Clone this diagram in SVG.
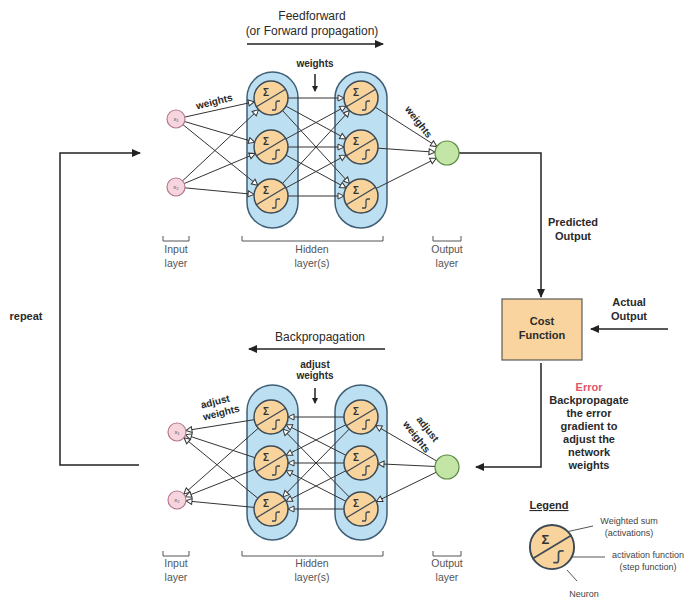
<svg xmlns="http://www.w3.org/2000/svg" width="688" height="600" viewBox="0 0 688 600">
<style>
text{font-family:"Liberation Sans",Arial,sans-serif;fill:#2a2a2a;}
.t{font-size:12px;text-anchor:middle;}
.b{font-size:11px;font-weight:bold;text-anchor:middle;}
.w{font-size:10px;font-weight:bold;text-anchor:middle;}
.s{font-size:10.5px;text-anchor:middle;fill:#555;}
.cap{fill:#bcdff1;stroke:#3f5f76;stroke-width:1.5;}
.nc{fill:#f8d49c;stroke:#3c4a55;stroke-width:1.5;}
.neuron line,.neuron path{stroke:#3c4a55;stroke-width:1.3;fill:none;}
.sig{font-size:10px;font-weight:bold;text-anchor:middle;fill:#333;}
.inp{fill:#f6d5de;stroke:#b57a8e;stroke-width:1.2;}
.out{fill:#c3e5a5;stroke:#5b8a42;stroke-width:1.2;}
.xl{font-size:6px;text-anchor:middle;fill:#555;}
.c{stroke:#333;stroke-width:1;fill:none;}
.k{stroke:#222;stroke-width:1.5;fill:none;}
.br{stroke:#555;stroke-width:1;fill:none;}
.lg{font-size:9px;text-anchor:middle;fill:#444;}
</style>
<defs>
<marker id="a17" markerUnits="userSpaceOnUse" markerWidth="10" markerHeight="10" refX="17" refY="0" orient="auto" overflow="visible"><path d="M0,0 L-6,-3 L-6,3 Z" fill="#fff" stroke="#333" stroke-width="1"/></marker>
<marker id="a12" markerUnits="userSpaceOnUse" markerWidth="10" markerHeight="10" refX="12" refY="0" orient="auto" overflow="visible"><path d="M0,0 L-6,-3 L-6,3 Z" fill="#fff" stroke="#333" stroke-width="1"/></marker>
<marker id="a9" markerUnits="userSpaceOnUse" markerWidth="10" markerHeight="10" refX="9" refY="0" orient="auto" overflow="visible"><path d="M0,0 L-6,-3 L-6,3 Z" fill="#fff" stroke="#333" stroke-width="1"/></marker>
<marker id="af" markerUnits="userSpaceOnUse" markerWidth="10" markerHeight="10" refX="0" refY="0" orient="auto" overflow="visible"><path d="M1,0 L-8,-4 L-8,4 Z" fill="#222"/></marker>
<marker id="as" markerUnits="userSpaceOnUse" markerWidth="10" markerHeight="10" refX="0" refY="0" orient="auto" overflow="visible"><path d="M1,0 L-5,-3 L-5,3 Z" fill="#222"/></marker>
</defs>

<g id="capsules">
<rect class="cap" x="247" y="72" width="51" height="156" rx="25.5"/>
<rect class="cap" x="335" y="72" width="52" height="156" rx="26"/>
<rect class="cap" x="247" y="385" width="51" height="155" rx="25.5"/>
<rect class="cap" x="335" y="385" width="52" height="155" rx="26"/>
</g>

<g id="connectors">
<line class="c" x1="176" y1="119" x2="271" y2="98" marker-end="url(#a17)"/>
<line class="c" x1="176" y1="119" x2="271" y2="147" marker-end="url(#a17)"/>
<line class="c" x1="176" y1="119" x2="271" y2="196" marker-end="url(#a17)"/>
<line class="c" x1="176" y1="187" x2="271" y2="98" marker-end="url(#a17)"/>
<line class="c" x1="176" y1="187" x2="271" y2="147" marker-end="url(#a17)"/>
<line class="c" x1="176" y1="187" x2="271" y2="196" marker-end="url(#a17)"/>
<line class="c" x1="271" y1="98" x2="361" y2="98" marker-end="url(#a17)"/>
<line class="c" x1="271" y1="98" x2="361" y2="147" marker-end="url(#a17)"/>
<line class="c" x1="271" y1="98" x2="361" y2="196" marker-end="url(#a17)"/>
<line class="c" x1="271" y1="147" x2="361" y2="98" marker-end="url(#a17)"/>
<line class="c" x1="271" y1="147" x2="361" y2="147" marker-end="url(#a17)"/>
<line class="c" x1="271" y1="147" x2="361" y2="196" marker-end="url(#a17)"/>
<line class="c" x1="271" y1="196" x2="361" y2="98" marker-end="url(#a17)"/>
<line class="c" x1="271" y1="196" x2="361" y2="147" marker-end="url(#a17)"/>
<line class="c" x1="271" y1="196" x2="361" y2="196" marker-end="url(#a17)"/>
<line class="c" x1="361" y1="98" x2="447" y2="153" marker-end="url(#a12)"/>
<line class="c" x1="361" y1="147" x2="447" y2="153" marker-end="url(#a12)"/>
<line class="c" x1="361" y1="196" x2="447" y2="153" marker-end="url(#a12)"/>
<line class="c" x1="447" y1="467" x2="361" y2="417" marker-end="url(#a17)"/>
<line class="c" x1="447" y1="467" x2="361" y2="463" marker-end="url(#a17)"/>
<line class="c" x1="447" y1="467" x2="361" y2="509" marker-end="url(#a17)"/>
<line class="c" x1="361" y1="417" x2="271" y2="417" marker-end="url(#a17)"/>
<line class="c" x1="361" y1="417" x2="271" y2="463" marker-end="url(#a17)"/>
<line class="c" x1="361" y1="417" x2="271" y2="509" marker-end="url(#a17)"/>
<line class="c" x1="361" y1="463" x2="271" y2="417" marker-end="url(#a17)"/>
<line class="c" x1="361" y1="463" x2="271" y2="463" marker-end="url(#a17)"/>
<line class="c" x1="361" y1="463" x2="271" y2="509" marker-end="url(#a17)"/>
<line class="c" x1="361" y1="509" x2="271" y2="417" marker-end="url(#a17)"/>
<line class="c" x1="361" y1="509" x2="271" y2="463" marker-end="url(#a17)"/>
<line class="c" x1="361" y1="509" x2="271" y2="509" marker-end="url(#a17)"/>
<line class="c" x1="271" y1="417" x2="177" y2="432" marker-end="url(#a9)"/>
<line class="c" x1="271" y1="463" x2="177" y2="432" marker-end="url(#a9)"/>
<line class="c" x1="271" y1="509" x2="177" y2="432" marker-end="url(#a9)"/>
<line class="c" x1="271" y1="417" x2="177" y2="500" marker-end="url(#a9)"/>
<line class="c" x1="271" y1="463" x2="177" y2="500" marker-end="url(#a9)"/>
<line class="c" x1="271" y1="509" x2="177" y2="500" marker-end="url(#a9)"/>
<line class="k" x1="247" y1="44" x2="383" y2="44" stroke-width="2" marker-end="url(#af)"/>
<line class="k" x1="385" y1="349" x2="249" y2="349" stroke-width="2" marker-end="url(#af)"/>
<line class="k" x1="315" y1="74" x2="315" y2="91" stroke-width="1" marker-end="url(#as)"/>
<line class="k" x1="315" y1="388" x2="315" y2="403" stroke-width="1" marker-end="url(#as)"/>
<polyline class="k" points="459,153 541,153 541,297" marker-end="url(#af)"/>
<line class="k" x1="668" y1="329" x2="591" y2="329" marker-end="url(#af)"/>
<polyline class="k" points="541,363 541,467 476,467" marker-end="url(#af)"/>
<polyline class="k" points="139,465 60,465 60,153 140,153" marker-end="url(#af)"/>
<line class="br" x1="566" y1="532" x2="593" y2="526"/>
<line class="br" x1="572" y1="557" x2="605" y2="557"/>
<line class="br" x1="567" y1="570" x2="577" y2="581"/>
</g>

<g id="top-x1"><circle class="inp" cx="176" cy="119" r="9"/><text class="xl" x="176" y="121">x₁</text></g>
<g id="top-x2"><circle class="inp" cx="176" cy="187" r="9"/><text class="xl" x="176" y="189">x₂</text></g>
<g id="bot-x1"><circle class="inp" cx="177" cy="432" r="9"/><text class="xl" x="177" y="434">x₁</text></g>
<g id="bot-x2"><circle class="inp" cx="177" cy="500" r="9"/><text class="xl" x="177" y="502">x₂</text></g>

<g id="top-h1-1" class="neuron" transform="translate(271,98)"><circle class="nc" r="17"/><text class="sig" x="-5" y="-2">Σ</text><line x1="-15" y1="9" x2="15" y2="-9"/><path d="M1,12 L4,12 Q5,12 5,9 L5,5 Q5,3 7,3 L9,3"/></g>
<g id="top-h1-2" class="neuron" transform="translate(271,147)"><circle class="nc" r="17"/><text class="sig" x="-5" y="-2">Σ</text><line x1="-15" y1="9" x2="15" y2="-9"/><path d="M1,12 L4,12 Q5,12 5,9 L5,5 Q5,3 7,3 L9,3"/></g>
<g id="top-h1-3" class="neuron" transform="translate(271,196)"><circle class="nc" r="17"/><text class="sig" x="-5" y="-2">Σ</text><line x1="-15" y1="9" x2="15" y2="-9"/><path d="M1,12 L4,12 Q5,12 5,9 L5,5 Q5,3 7,3 L9,3"/></g>
<g id="top-h2-1" class="neuron" transform="translate(361,98)"><circle class="nc" r="17"/><text class="sig" x="-5" y="-2">Σ</text><line x1="-15" y1="9" x2="15" y2="-9"/><path d="M1,12 L4,12 Q5,12 5,9 L5,5 Q5,3 7,3 L9,3"/></g>
<g id="top-h2-2" class="neuron" transform="translate(361,147)"><circle class="nc" r="17"/><text class="sig" x="-5" y="-2">Σ</text><line x1="-15" y1="9" x2="15" y2="-9"/><path d="M1,12 L4,12 Q5,12 5,9 L5,5 Q5,3 7,3 L9,3"/></g>
<g id="top-h2-3" class="neuron" transform="translate(361,196)"><circle class="nc" r="17"/><text class="sig" x="-5" y="-2">Σ</text><line x1="-15" y1="9" x2="15" y2="-9"/><path d="M1,12 L4,12 Q5,12 5,9 L5,5 Q5,3 7,3 L9,3"/></g>
<g id="bot-h1-1" class="neuron" transform="translate(271,417)"><circle class="nc" r="17"/><text class="sig" x="-5" y="-2">Σ</text><line x1="-15" y1="9" x2="15" y2="-9"/><path d="M1,12 L4,12 Q5,12 5,9 L5,5 Q5,3 7,3 L9,3"/></g>
<g id="bot-h1-2" class="neuron" transform="translate(271,463)"><circle class="nc" r="17"/><text class="sig" x="-5" y="-2">Σ</text><line x1="-15" y1="9" x2="15" y2="-9"/><path d="M1,12 L4,12 Q5,12 5,9 L5,5 Q5,3 7,3 L9,3"/></g>
<g id="bot-h1-3" class="neuron" transform="translate(271,509)"><circle class="nc" r="17"/><text class="sig" x="-5" y="-2">Σ</text><line x1="-15" y1="9" x2="15" y2="-9"/><path d="M1,12 L4,12 Q5,12 5,9 L5,5 Q5,3 7,3 L9,3"/></g>
<g id="bot-h2-1" class="neuron" transform="translate(361,417)"><circle class="nc" r="17"/><text class="sig" x="-5" y="-2">Σ</text><line x1="-15" y1="9" x2="15" y2="-9"/><path d="M1,12 L4,12 Q5,12 5,9 L5,5 Q5,3 7,3 L9,3"/></g>
<g id="bot-h2-2" class="neuron" transform="translate(361,463)"><circle class="nc" r="17"/><text class="sig" x="-5" y="-2">Σ</text><line x1="-15" y1="9" x2="15" y2="-9"/><path d="M1,12 L4,12 Q5,12 5,9 L5,5 Q5,3 7,3 L9,3"/></g>
<g id="bot-h2-3" class="neuron" transform="translate(361,509)"><circle class="nc" r="17"/><text class="sig" x="-5" y="-2">Σ</text><line x1="-15" y1="9" x2="15" y2="-9"/><path d="M1,12 L4,12 Q5,12 5,9 L5,5 Q5,3 7,3 L9,3"/></g>

<g id="top-out"><circle class="out" cx="447" cy="153" r="12"/></g>
<g id="bot-out"><circle class="out" cx="447" cy="467" r="12"/></g>

<g id="cost-function">
<rect x="502" y="299" width="80" height="61" fill="#f9d49e" stroke="#5a5a5a" stroke-width="1.2"/>
<text class="b" x="542" y="325">Cost</text>
<text class="b" x="542" y="339">Function</text>
</g>

<g id="labels">
<text class="t" x="312" y="20">Feedforward</text>
<text class="t" x="312" y="35">(or Forward propagation)</text>
<text class="w" x="315" y="67" font-size="8.5">weights</text>
<text class="w" x="0" y="0" transform="translate(215,105) rotate(-14)">weights</text>
<text class="w" x="0" y="0" transform="translate(416,124) rotate(52)">weights</text>
<text class="t" x="320" y="341">Backpropagation</text>
<text class="w" x="315" y="368" font-size="8.5">adjust</text>
<text class="w" x="315" y="379" font-size="8.5">weights</text>
<text class="w" x="0" y="0" transform="translate(216,405) rotate(-14)">adjust</text>
<text class="w" x="0" y="0" transform="translate(222,416) rotate(-14)">weights</text>
<text class="w" x="0" y="0" transform="translate(425,431) rotate(52)">adjust</text>
<text class="w" x="0" y="0" transform="translate(414,439) rotate(52)">weights</text>
<text class="b" x="573" y="226">Predicted</text>
<text class="b" x="573" y="240">Output</text>
<text class="b" x="629" y="306">Actual</text>
<text class="b" x="629" y="320">Output</text>
<text class="b" x="589" y="391" style="fill:#e0556a">Error</text>
<text class="b" x="589" y="404">Backpropagate</text>
<text class="b" x="589" y="417">the error</text>
<text class="b" x="589" y="430">gradient to</text>
<text class="b" x="589" y="443">adjust the</text>
<text class="b" x="589" y="456">network</text>
<text class="b" x="589" y="469">weights</text>
<text class="b" x="26" y="320">repeat</text>
<path class="br" d="M163,236 L163,241 L189,241 L189,236"/>
<text class="s" x="176" y="253">Input</text><text class="s" x="176" y="267">layer</text>
<path class="br" d="M242,236 L242,241 L383,241 L383,236"/>
<text class="s" x="312" y="253">Hidden</text><text class="s" x="312" y="267">layer(s)</text>
<path class="br" d="M433,236 L433,241 L461,241 L461,236"/>
<text class="s" x="447" y="253">Output</text><text class="s" x="447" y="267">layer</text>
<path class="br" d="M163,551 L163,556 L189,556 L189,551"/>
<text class="s" x="176" y="567">Input</text><text class="s" x="176" y="581">layer</text>
<path class="br" d="M242,551 L242,556 L383,556 L383,551"/>
<text class="s" x="312" y="567">Hidden</text><text class="s" x="312" y="581">layer(s)</text>
<path class="br" d="M433,551 L433,556 L461,556 L461,551"/>
<text class="s" x="447" y="567">Output</text><text class="s" x="447" y="581">layer</text>
</g>

<g id="legend">
<text class="b" x="549" y="509" font-size="9.5" text-decoration="underline">Legend</text>
<g id="legend-neuron" class="neuron" transform="translate(552,547) scale(1.3)"><circle class="nc" r="17"/><text class="sig" x="-5" y="-2">Σ</text><line x1="-15" y1="9" x2="15" y2="-9"/><path d="M1,12 L4,12 Q5,12 5,9 L5,5 Q5,3 7,3 L9,3"/></g>
<text class="lg" x="629" y="524">Weighted sum</text>
<text class="lg" x="629" y="536">(activations)</text>
<text class="lg" x="648" y="558">activation function</text>
<text class="lg" x="648" y="570">(step function)</text>
<text class="lg" x="584" y="597">Neuron</text>
</g>
</svg>
